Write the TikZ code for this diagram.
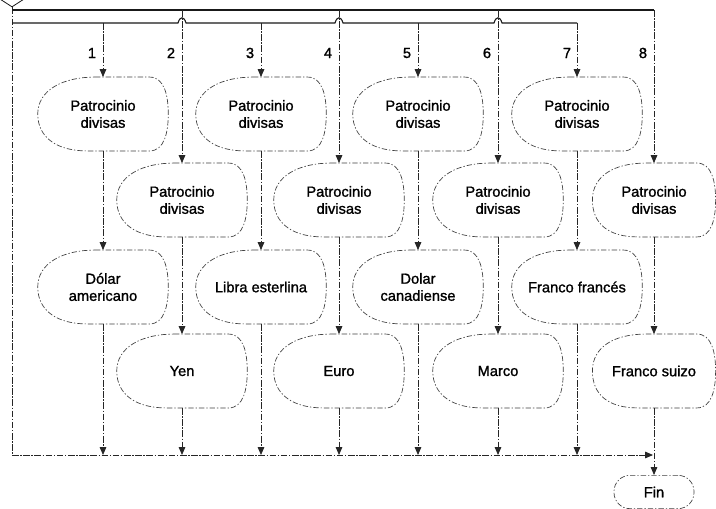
\documentclass[tikz,border=0pt]{standalone}
\usepackage{fontspec}
\setmainfont{Liberation Sans}
\newfontfamily\lblfont[FakeBold=1.2]{Liberation Sans}
\usetikzlibrary{arrows.meta,shapes.geometric}
\tikzset{
  flow/.style={draw=black!85, line width=0.6pt, dash pattern=on 5pt off 1.2pt on 1pt off 1.2pt},
  solidflow/.style={draw=black!90, line width=0.8pt},
  tip/.style={-{Triangle[width=5pt,length=6pt]}},
  nodeline/.style={draw=black!75, line width=0.5pt, dash pattern=on 4pt off 1.5pt on 1pt off 1.5pt},
  dispbox/.style={minimum width=97.5pt, minimum height=55pt, inner sep=0pt, align=center, font=\lblfont\fontsize{11}{12.8}\selectfont},
  numlbl/.style={font=\lblfont\fontsize{11}{12}\selectfont, inner sep=0pt},
  finbox/.style={nodeline, rounded corners=12pt, minimum width=60pt, minimum height=25pt, inner sep=0pt, font=\lblfont\fontsize{11}{12}\selectfont},
  decbox/.style={diamond, draw=black!90, line width=0.6pt, minimum width=30pt, minimum height=19.5pt, inner sep=0pt}
}
\newcommand\dispnode[5][97.5pt]{%
  \node[dispbox, minimum width=#1] (#2) at (#3,#4) {#5};
  \draw[nodeline] ([xshift=-6pt]#2.north) -- ([xshift=-14pt]#2.north east)
     .. controls ([xshift=-3pt]#2.north east) and ([yshift=14pt]#2.east) .. (#2.east)
     .. controls ([yshift=-14pt]#2.east) and ([xshift=-3pt]#2.south east) .. ([xshift=-14pt]#2.south east)
     -- ([xshift=-12pt]#2.south)
     .. controls ([xshift=-34pt]#2.south) and ([yshift=-18pt]#2.west) .. (#2.west)
     .. controls ([yshift=18pt]#2.west) and ([xshift=-30pt]#2.north) .. cycle;
}
\begin{document}
\begin{tikzpicture}[x=0.75pt,y=-0.75pt]
\fill[white] (0,0) rectangle (716,509);
\useasboundingbox (0,0) rectangle (716,509);
\clip (0,0) rectangle (716,509);

% decision (only its lower tip is visible)
\node[decbox] (dec) at (12,-6) {};

% nodes
\dispnode{A1}{103}{114}{Patrocinio\\divisas}
\dispnode{B2}{182}{200}{Patrocinio\\divisas}
\dispnode{A3}{261}{114}{Patrocinio\\divisas}
\dispnode{B4}{339}{200}{Patrocinio\\divisas}
\dispnode{A5}{418}{114}{Patrocinio\\divisas}
\dispnode{B6}{498}{200}{Patrocinio\\divisas}
\dispnode{A7}{577}{114}{Patrocinio\\divisas}
\dispnode[92pt]{B8}{654}{200}{Patrocinio\\divisas}
\dispnode{C1}{103}{287}{Dólar\\americano}
\dispnode{D2}{182}{371}{Yen}
\dispnode{C3}{261}{287}{Libra esterlina}
\dispnode{D4}{339}{371}{Euro}
\dispnode{C5}{418}{287}{Dolar\\canadiense}
\dispnode{D6}{498}{371}{Marco}
\dispnode{C7}{577}{287}{Franco francés}
\dispnode[92pt]{D8}{654}{371}{Franco suizo}
\node[finbox] (fin) at (654,492) {Fin};

% numbers
\node[numlbl] (n1) at (92,53) {1};
\node[numlbl] (n2) at (171,53) {2};
\node[numlbl] (n3) at (250,53) {3};
\node[numlbl] (n4) at (328,53) {4};
\node[numlbl] (n5) at (407,53) {5};
\node[numlbl] (n6) at (487,53) {6};
\node[numlbl] (n7) at (567,53) {7};
\node[numlbl] (n8) at (643,53) {8};

% coordinates
\coordinate (tl) at (12,10);
\coordinate (t2) at (182,10);
\coordinate (t4) at (339,10);
\coordinate (t6) at (498,10);
\coordinate (t8) at (654,10);
\coordinate (sl) at (12,23);
\coordinate (s1) at (103,23);
\coordinate (s3) at (261,23);
\coordinate (s5) at (418,23);
\coordinate (s7) at (577,23);
\coordinate (bl) at (12,455);
\coordinate (b1) at (103,455);
\coordinate (b2) at (182,455);
\coordinate (b3) at (261,455);
\coordinate (b4) at (339,455);
\coordinate (b5) at (418,455);
\coordinate (b6) at (498,455);
\coordinate (b7) at (577,455);
\coordinate (be) at (653,455);

% distribution lines
\draw[flow] (dec.south) -- (bl);
\draw[solidflow] (tl) -- (t8);
\draw[flow,tip] (t8) -- (B8.north);
\draw[solidflow] (sl) -- (178,23) .. controls (180,16) and (184,16) .. (186,23)
  -- (335,23) .. controls (337,16) and (341,16) .. (343,23)
  -- (494,23) .. controls (496,16) and (500,16) .. (502,23) -- (s7);
\draw[flow,tip] (s7) -- (A7.north);
\draw[flow,tip] (s1) -- (A1.north);
\draw[flow,tip] (s3) -- (A3.north);
\draw[flow,tip] (s5) -- (A5.north);
\draw[flow,tip] (t2) -- (B2.north);
\draw[flow,tip] (t4) -- (B4.north);
\draw[flow,tip] (t6) -- (B6.north);

% column flows
\draw[flow,tip] (A1.south) -- (C1.north);
\draw[flow,tip] (B2.south) -- (D2.north);
\draw[flow,tip] (A3.south) -- (C3.north);
\draw[flow,tip] (B4.south) -- (D4.north);
\draw[flow,tip] (A5.south) -- (C5.north);
\draw[flow,tip] (B6.south) -- (D6.north);
\draw[flow,tip] (A7.south) -- (C7.north);
\draw[flow,tip] (B8.south) -- (D8.north);

% to the collecting line
\draw[flow,tip] (C1.south) -- (b1);
\draw[flow,tip] (D2.south) -- (b2);
\draw[flow,tip] (C3.south) -- (b3);
\draw[flow,tip] (D4.south) -- (b4);
\draw[flow,tip] (C5.south) -- (b5);
\draw[flow,tip] (D6.south) -- (b6);
\draw[flow,tip] (C7.south) -- (b7);
\draw[flow,tip] (bl) -- (be);
\draw[flow,tip] (D8.south) -- (fin.north);
\end{tikzpicture}
\end{document}
